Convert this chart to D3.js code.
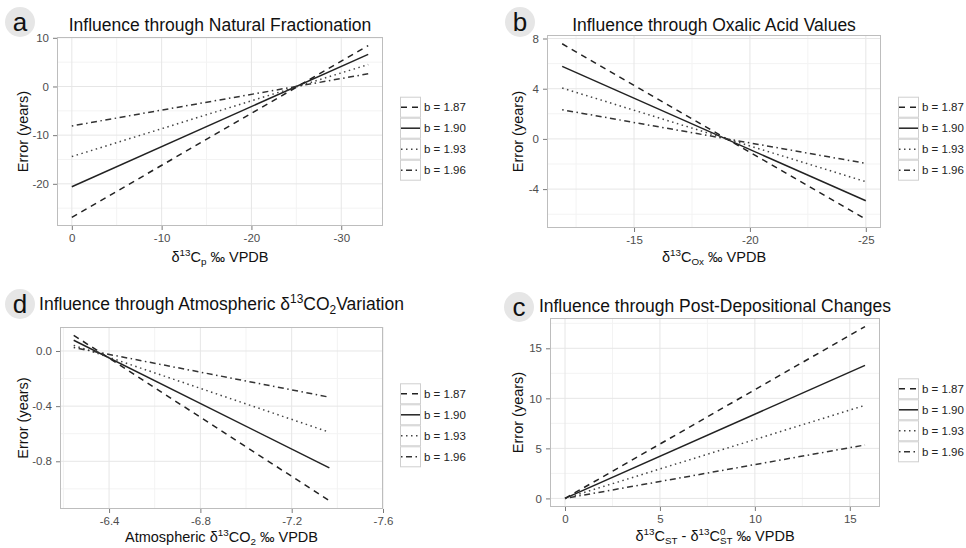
<!DOCTYPE html>
<html>
<head>
<meta charset="utf-8">
<script src="https://cdn.jsdelivr.net/npm/d3@7"></script>
<style>
  body { margin: 0; background: #fff; }
  svg { display: block; font-family: "Liberation Sans", Arial, Helvetica, sans-serif; }
</style>
</head>
<body>
<svg id="chart" width="966" height="548"></svg>
<script>
// ---------- DATA ----------
const seriesLabels = ["b = 1.87", "b = 1.90", "b = 1.93", "b = 1.96"];

// Panel a: Natural Fractionation
const aX = [0, -33];
const aY187 = [-26.9, 8.4];
const aY190 = [-20.6, 6.6];
const aY193 = [-14.4, 4.5];
const aY196 = [-8.1, 2.6];
const aXTicks = [0, -10, -20, -30];
const aYTicks = [10, 0, -10, -20];

// Panel b: Oxalic Acid Values
const bX = [-11.9, -25];
const bY187 = [7.58, -6.4];
const bY190 = [5.78, -4.93];
const bY193 = [4.05, -3.41];
const bY196 = [2.32, -1.95];
const bXTicks = [-15, -20, -25];
const bYTicks = [8, 4, 0, -4];

// Panel d: Atmospheric CO2 Variation
const dX = [-6.245, -7.365];
const dY187 = [0.114, -1.086];
const dY190 = [0.078, -0.848];
const dY193 = [0.041, -0.589];
const dY196 = [0.025, -0.335];
const dXTicks = [-6.4, -6.8, -7.2, -7.6];
const dXTickLabels = ["-6.4", "-6.8", "-7.2", "-7.6"];
const dYTicks = [0, -0.4, -0.8];
const dYTickLabels = ["0.0", "-0.4", "-0.8"];
const dXLimits = [-6.185, -7.6];

// Panel c: Post-Depositional Changes
const cX = [0, 15.8];
const cY187 = [0, 17.17];
const cY190 = [0, 13.3];
const cY193 = [0, 9.3];
const cY196 = [0, 5.34];
const cXTicks = [0, 5, 10, 15];
const cYTicks = [0, 5, 10, 15];

// ---------- STYLE / LAYOUT ----------
const dashes = ["6,5", null, "1.5,3.5", "1.5,3.5,6,3.5"];
const lineColors = ["#222", "#222", "#444", "#333"];

const panels = [
  { label: "a", labelPos: [20, 22],
    title: [{t: "Influence through Natural Fractionation"}], titleY: 31,
    rect: [57, 383, 37, 226], xs: aX, ys: [aY187, aY190, aY193, aY196],
    xTicks: aXTicks, yTicks: aYTicks, yTitleX: 23, legend: [400, 96.7], xTitleDy: 36,
    xTitle: [{t: "δ"}, {t: "13", s: "sup"}, {t: "C"}, {t: "p", s: "sub"}, {t: " ‰ VPDB"}] },
  { label: "b", labelPos: [520, 22],
    title: [{t: "Influence through Oxalic Acid Values"}], titleY: 31,
    rect: [547, 881, 35, 228], xs: bX, ys: [bY187, bY190, bY193, bY196],
    xTicks: bXTicks, yTicks: bYTicks, yTitleX: 518, legend: [898, 96.7], xTitleDy: 34,
    xTitle: [{t: "δ"}, {t: "13", s: "sup"}, {t: "C"}, {t: "Ox", s: "sub"}, {t: " ‰ VPDB"}] },
  { label: "d", labelPos: [20, 304],
    title: [{t: "Influence through Atmospheric δ"}, {t: "13", s: "sup"}, {t: "CO"}, {t: "2", s: "sub"}, {t: "Variation"}], titleY: 310,
    rect: [60, 383, 327, 509], xs: dX, ys: [dY187, dY190, dY193, dY196],
    xTicks: dXTicks, xTickLabels: dXTickLabels, yTicks: dYTicks, yTickLabels: dYTickLabels,
    xDomain: dXLimits, yTitleX: 23, legend: [400, 383.3], xTitleDy: 33,
    xTitle: [{t: "Atmospheric δ"}, {t: "13", s: "sup"}, {t: "CO"}, {t: "2", s: "sub"}, {t: " ‰ VPDB"}] },
  { label: "c", labelPos: [519, 307],
    title: [{t: "Influence through Post-Depositional Changes"}], titleY: 312,
    rect: [550, 880, 318, 507], xs: cX, ys: [cY187, cY190, cY193, cY196],
    xTicks: cXTicks, yTicks: cYTicks, yTitleX: 518, legend: [898, 378.3], xTitleDy: 34,
    xTitle: [{t: "δ"}, {t: "13", s: "sup"}, {t: "C"}, {t: "ST", s: "sub"}, {t: " - δ"}, {t: "13", s: "sup"}, {t: "C"}, {t: "0", s: "sup"}, {t: "ST", s: "substack"}, {t: " ‰ VPDB"}] }
];

const svg = d3.select("#chart");

function richText(textSel, parts, size) {
  let shift = 0;
  const small = size * 0.68;
  parts.forEach(p => {
    let target = 0, fs = size, dx = 0;
    if (p.s === "sup") { target = -size * 0.42; fs = small; }
    else if (p.s === "sub") { target = size * 0.22; fs = small; }
    else if (p.s === "substack") { target = size * 0.22; fs = small; dx = -small * 0.556; }
    const ts = textSel.append("tspan")
      .attr("dy", target - shift)
      .style("font-size", fs + "px")
      .text(p.t);
    if (dx) ts.attr("dx", dx);
    shift = target;
  });
}

function expandDomain(vals, reversed) {
  const lo = d3.min(vals), hi = d3.max(vals);
  const pad = (hi - lo) * 0.05;
  return reversed ? [hi + pad, lo - pad] : [lo - pad, hi + pad];
}

function minors(ticks, domain) {
  const step = Math.abs(ticks[1] - ticks[0]);
  const lo = Math.min(...domain), hi = Math.max(...domain);
  const out = [];
  const start = Math.min(...ticks) - step / 2;
  for (let v = start - step * 10; v <= hi + 1e-9; v += step) {
    if (v >= lo - 1e-9) out.push(+v.toFixed(6));
  }
  return out;
}

panels.forEach(p => {
  const [x0, x1, y0, y1] = p.rect;
  const reversed = p.xs[0] > p.xs[p.xs.length - 1];
  const xDom = p.xDomain || expandDomain(p.xs, reversed);
  const yDom = expandDomain(p.ys.flat(), false);
  const x = d3.scaleLinear().domain(xDom).range([x0, x1]);
  const y = d3.scaleLinear().domain(yDom).range([y1, y0]);
  const g = svg.append("g");

  g.append("rect").attr("x", x0).attr("y", y0).attr("width", x1 - x0).attr("height", y1 - y0)
    .attr("fill", "#fff");

  // minor grid
  minors(p.xTicks, xDom).forEach(v => {
    g.append("line").attr("x1", x(v)).attr("x2", x(v)).attr("y1", y0).attr("y2", y1)
      .attr("stroke", "#f3f3f3").attr("stroke-width", 1);
  });
  minors(p.yTicks, yDom).forEach(v => {
    g.append("line").attr("y1", y(v)).attr("y2", y(v)).attr("x1", x0).attr("x2", x1)
      .attr("stroke", "#f3f3f3").attr("stroke-width", 1);
  });
  // major grid
  p.xTicks.forEach(v => {
    g.append("line").attr("x1", x(v)).attr("x2", x(v)).attr("y1", y0).attr("y2", y1)
      .attr("stroke", "#e6e6e6").attr("stroke-width", 1);
  });
  p.yTicks.forEach(v => {
    g.append("line").attr("y1", y(v)).attr("y2", y(v)).attr("x1", x0).attr("x2", x1)
      .attr("stroke", "#e6e6e6").attr("stroke-width", 1);
  });

  // lines
  const clipId = "clip-" + p.label;
  svg.append("clipPath").attr("id", clipId).append("rect")
    .attr("x", x0).attr("y", y0).attr("width", x1 - x0).attr("height", y1 - y0);
  const line = d3.line().x(d => x(d[0])).y(d => y(d[1]));
  p.ys.forEach((ser, i) => {
    const pts = p.xs.map((xv, j) => [xv, ser[j]]);
    g.append("path").attr("d", line(pts)).attr("clip-path", `url(#${clipId})`)
      .attr("fill", "none").attr("stroke", lineColors[i]).attr("stroke-width", 1.5)
      .attr("stroke-dasharray", dashes[i]);
  });

  // border
  g.append("rect").attr("x", x0 + 0.5).attr("y", y0 + 0.5).attr("width", x1 - x0 - 1).attr("height", y1 - y0 - 1)
    .attr("fill", "none").attr("stroke", "#bdbdbd").attr("stroke-width", 1);

  // axes
  const xAxis = d3.axisBottom(x).tickValues(p.xTicks).tickSize(4).tickPadding(4)
    .tickFormat((d, i) => p.xTickLabels ? p.xTickLabels[i] : String(d));
  const gx = g.append("g").attr("transform", `translate(0,${y1})`).call(xAxis);
  const yAxis = d3.axisLeft(y).tickValues(p.yTicks).tickSize(4).tickPadding(4)
    .tickFormat((d, i) => p.yTickLabels ? p.yTickLabels[i] : String(d));
  const gy = g.append("g").attr("transform", `translate(${x0},0)`).call(yAxis);
  [gx, gy].forEach(ax => {
    ax.select(".domain").remove();
    ax.selectAll(".tick line").attr("stroke", "#7a7a7a");
    ax.selectAll(".tick text").attr("fill", "#4d4d4d")
      .style("font-size", "11.5px").style("font-family", "'Liberation Sans', Arial, sans-serif");
  });

  // title
  const tt = g.append("text").attr("x", (x0 + x1) / 2).attr("y", p.titleY)
    .attr("text-anchor", "middle").attr("fill", "#111").style("font-size", "17.5px");
  richText(tt, p.title, 17.5);

  // panel label
  g.append("circle").attr("cx", p.labelPos[0]).attr("cy", p.labelPos[1]).attr("r", 15)
    .attr("fill", "#e6e6e6");
  g.append("text").attr("x", p.labelPos[0]).attr("y", p.labelPos[1] + 9)
    .attr("text-anchor", "middle").attr("fill", "#111").style("font-size", "26px")
    .text(p.label);

  // y title
  g.append("text").attr("transform", `translate(${p.yTitleX + 5},${(y0 + y1) / 2}) rotate(-90)`)
    .attr("text-anchor", "middle").attr("fill", "#111").style("font-size", "14.5px")
    .text("Error (years)");

  // x title
  const xt = g.append("text").attr("x", (x0 + x1) / 2).attr("y", y1 + p.xTitleDy)
    .attr("text-anchor", "middle").attr("fill", "#111").style("font-size", "14.5px");
  richText(xt, p.xTitle, 14.5);

  // legend
  const [lx, ly] = p.legend;
  const ks = 21;
  seriesLabels.forEach((lab, i) => {
    const ky = ly + i * ks;
    g.append("rect").attr("x", lx + 0.5).attr("y", ky + 0.5).attr("width", ks - 1).attr("height", ks - 1)
      .attr("fill", "#fff").attr("stroke", "#cfcfcf").attr("stroke-width", 1);
    g.append("line").attr("x1", lx + 1).attr("x2", lx + ks - 1).attr("y1", ky + ks / 2).attr("y2", ky + ks / 2)
      .attr("stroke", lineColors[i]).attr("stroke-width", 1.5).attr("stroke-dasharray", dashes[i]);
    g.append("text").attr("x", lx + ks + 3).attr("y", ky + ks / 2 + 4)
      .attr("fill", "#222").style("font-size", "11.5px").text(lab);
  });
});
</script>
</body>
</html>
